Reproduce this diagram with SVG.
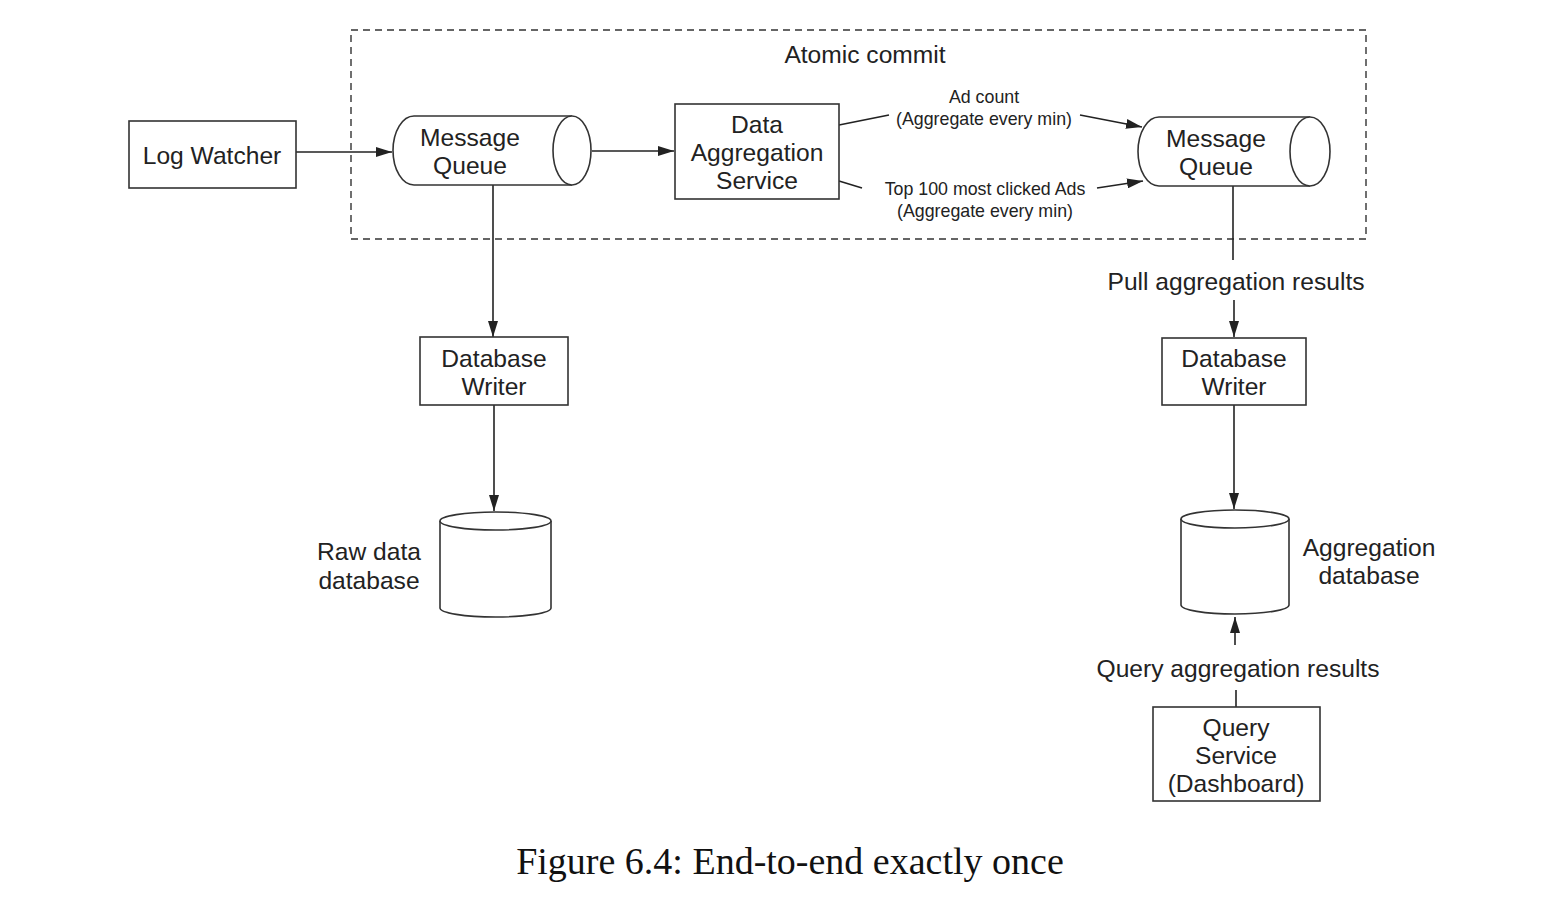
<svg xmlns="http://www.w3.org/2000/svg" width="1542" height="919" viewBox="0 0 1542 919">
<defs>
<marker id="ahl" viewBox="0 0 16 10" refX="16" refY="5" markerWidth="16" markerHeight="10" markerUnits="userSpaceOnUse" orient="auto">
<path d="M0,0 L16,5 L0,10 z" fill="#222"/>
</marker>
</defs>
<style>
.s{fill:#fff;stroke:#333;stroke-width:1.6}
.t{font-family:"Liberation Sans",Arial,sans-serif;font-size:24.6px;fill:#222;text-anchor:middle}
.sm{font-family:"Liberation Sans",Arial,sans-serif;font-size:17.8px;fill:#222;text-anchor:middle}
.c{fill:none;stroke:#222;stroke-width:1.6}
.cap{font-family:"Liberation Serif","Times New Roman",serif;font-size:38px;fill:#111;text-anchor:middle}
</style>
<rect width="1542" height="919" fill="#fff"/>
<g id="atomic-commit">
<rect x="351" y="30" width="1015" height="209" fill="none" stroke="#333" stroke-width="1.4" stroke-dasharray="7,5"/>
<text class="t" x="865" y="63">Atomic commit</text>
</g>
<g id="connectors">
<line class="c" x1="296" y1="152" x2="392" y2="152" marker-end="url(#ahl)"/>
<line class="c" x1="592" y1="151" x2="674" y2="151" marker-end="url(#ahl)"/>
<line class="c" x1="839" y1="125" x2="889" y2="115"/>
<line class="c" x1="1080" y1="115" x2="1142" y2="127" marker-end="url(#ahl)"/>
<line class="c" x1="839" y1="181" x2="862" y2="188"/>
<line class="c" x1="1097" y1="188" x2="1143" y2="181" marker-end="url(#ahl)"/>
<line class="c" x1="493" y1="185" x2="493" y2="337" marker-end="url(#ahl)"/>
<line class="c" x1="494" y1="405" x2="494" y2="511" marker-end="url(#ahl)"/>
<line class="c" x1="1233" y1="186" x2="1233" y2="260"/>
<line class="c" x1="1234" y1="300" x2="1234" y2="337" marker-end="url(#ahl)"/>
<line class="c" x1="1234" y1="405" x2="1234" y2="509" marker-end="url(#ahl)"/>
<line class="c" x1="1235" y1="645" x2="1235" y2="617" marker-end="url(#ahl)"/>
<line class="c" x1="1236" y1="690" x2="1236" y2="707"/>
<text class="sm" x="984" y="103">Ad count</text>
<text class="sm" x="984" y="125">(Aggregate every min)</text>
<text class="sm" x="985" y="195">Top 100 most clicked Ads</text>
<text class="sm" x="985" y="217">(Aggregate every min)</text>
<text class="t" x="1236" y="290">Pull aggregation results</text>
<text class="t" x="1238" y="677">Query aggregation results</text>
</g>
<g id="log-watcher">
<rect class="s" x="129" y="121" width="167" height="67"/>
<text class="t" x="212" y="164">Log Watcher</text>
</g>
<g id="message-queue-1">
<path class="s" d="M572,116 H414 A21,34.5 0 0 0 414,185 H572"/>
<ellipse class="s" cx="572" cy="150.5" rx="19" ry="34.5"/>
<text class="t" x="470" y="146">Message</text>
<text class="t" x="470" y="174">Queue</text>
</g>
<g id="data-aggregation-service">
<rect class="s" x="675" y="104" width="164" height="95"/>
<text class="t" x="757" y="133">Data</text>
<text class="t" x="757" y="161">Aggregation</text>
<text class="t" x="757" y="189">Service</text>
</g>
<g id="message-queue-2">
<path class="s" d="M1310,117 H1159 A21,34.5 0 0 0 1159,186 H1310"/>
<ellipse class="s" cx="1310" cy="151.5" rx="20" ry="34.5"/>
<text class="t" x="1216" y="147">Message</text>
<text class="t" x="1216" y="175">Queue</text>
</g>
<g id="database-writer-1">
<rect class="s" x="420" y="337" width="148" height="68"/>
<text class="t" x="494" y="367">Database</text>
<text class="t" x="494" y="395">Writer</text>
</g>
<g id="raw-data-database">
<path class="s" d="M440,521 V608 A55.5,9 0 0 0 551,608 V521"/>
<ellipse class="s" cx="495.5" cy="521" rx="55.5" ry="9"/>
<text class="t" x="369" y="560">Raw data</text>
<text class="t" x="369" y="589">database</text>
</g>
<g id="database-writer-2">
<rect class="s" x="1162" y="338" width="144" height="67"/>
<text class="t" x="1234" y="367">Database</text>
<text class="t" x="1234" y="395">Writer</text>
</g>
<g id="aggregation-database">
<path class="s" d="M1181,519 V605 A54,9 0 0 0 1289,605 V519"/>
<ellipse class="s" cx="1235" cy="519" rx="54" ry="9"/>
<text class="t" x="1369" y="556">Aggregation</text>
<text class="t" x="1369" y="584">database</text>
</g>
<g id="query-service">
<rect class="s" x="1153" y="707" width="167" height="94"/>
<text class="t" x="1236" y="736">Query</text>
<text class="t" x="1236" y="764">Service</text>
<text class="t" x="1236" y="792">(Dashboard)</text>
</g>
<text class="cap" x="790" y="874">Figure 6.4: End-to-end exactly once</text>
</svg>
